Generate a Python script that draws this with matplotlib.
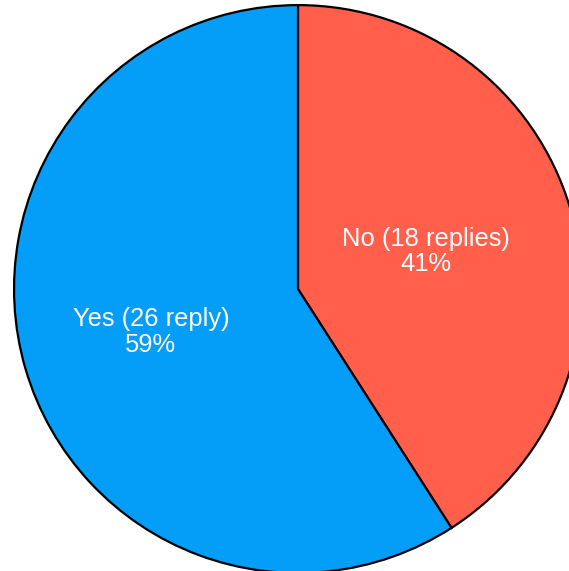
import numpy as np
import matplotlib
matplotlib.use("Agg")
import matplotlib.pyplot as plt

labels = ["No (18 replies)", "Yes (26 reply)"]
counts = [18, 26]
colors = ["#FF5F4B", "#049DF7"]
label_dist = [0.47, 0.54]

plt.rcParams['font.family'] = ['Liberation Sans', 'DejaVu Sans']

fig = plt.figure(figsize=(5.69, 5.71), dpi=100)
ax = fig.add_axes([0, 0, 1, 1])

wedges, _ = ax.pie(counts, colors=colors, startangle=90, counterclock=False,
                   radius=1.0,
                   wedgeprops=dict(edgecolor='black', linewidth=1.6))

total = sum(counts)
for w, lab, n, d in zip(wedges, labels, counts, label_dist):
    ang = np.deg2rad((w.theta1 + w.theta2) / 2)
    ax.text(d * np.cos(ang), d * np.sin(ang),
            f"{lab}\n{round(100 * n / total)}%",
            ha='center', va='center', color='white', fontsize=18.4,
            linespacing=1.1)

# pie sits off-centre and is clipped right/bottom in the original
ax.set_xlim(-1.049, 0.954)
ax.set_ylim(-0.993, 1.018)
ax.set_aspect('equal')
ax.axis('off')

fig.savefig("out.png", dpi=100)
